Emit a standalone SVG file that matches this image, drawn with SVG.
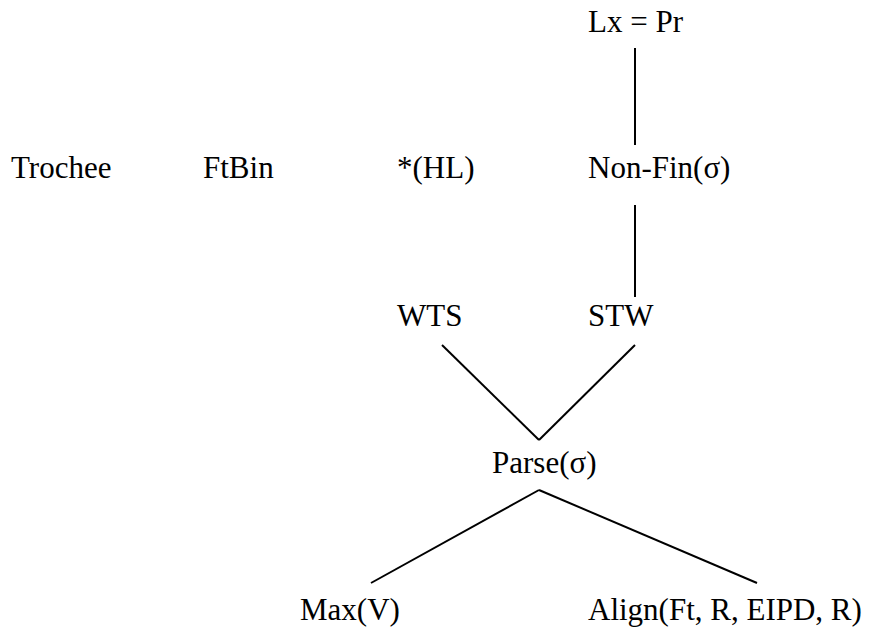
<svg xmlns="http://www.w3.org/2000/svg" width="871" height="627" viewBox="0 0 871 627">
  <style>
    .lbl { font-family: 'Liberation Serif', 'Times New Roman', serif; font-size: 31px; fill: #000; }
    .edge { stroke: #000; stroke-width: 2; fill: none; }
  </style>
  <rect width="871" height="627" fill="#fff"/>
  <g id="connectors">
    <line class="edge" x1="635" y1="48" x2="635" y2="145"/>
    <line class="edge" x1="635" y1="205" x2="635" y2="297"/>
    <line class="edge" x1="442" y1="345" x2="539" y2="440"/>
    <line class="edge" x1="635" y1="345" x2="539" y2="440"/>
    <line class="edge" x1="539" y1="490" x2="371" y2="583"/>
    <line class="edge" x1="539" y1="490" x2="757" y2="583"/>
  </g>
  <g id="lx-pr"><text class="lbl" x="588" y="32">Lx = Pr</text></g>
  <g id="trochee"><text class="lbl" x="11" y="178">Trochee</text></g>
  <g id="ftbin"><text class="lbl" x="203" y="178">FtBin</text></g>
  <g id="star-hl"><text class="lbl" x="397" y="178">*(HL)</text></g>
  <g id="non-fin"><text class="lbl" x="588" y="178">Non-Fin(σ)</text></g>
  <g id="wts"><text class="lbl" x="397" y="326">WTS</text></g>
  <g id="stw"><text class="lbl" x="588" y="326">STW</text></g>
  <g id="parse"><text class="lbl" x="492" y="473">Parse(σ)</text></g>
  <g id="max-v"><text class="lbl" x="300" y="620">Max(V)</text></g>
  <g id="align"><text class="lbl" x="588" y="620">Align(Ft, R, EIPD, R)</text></g>
</svg>
